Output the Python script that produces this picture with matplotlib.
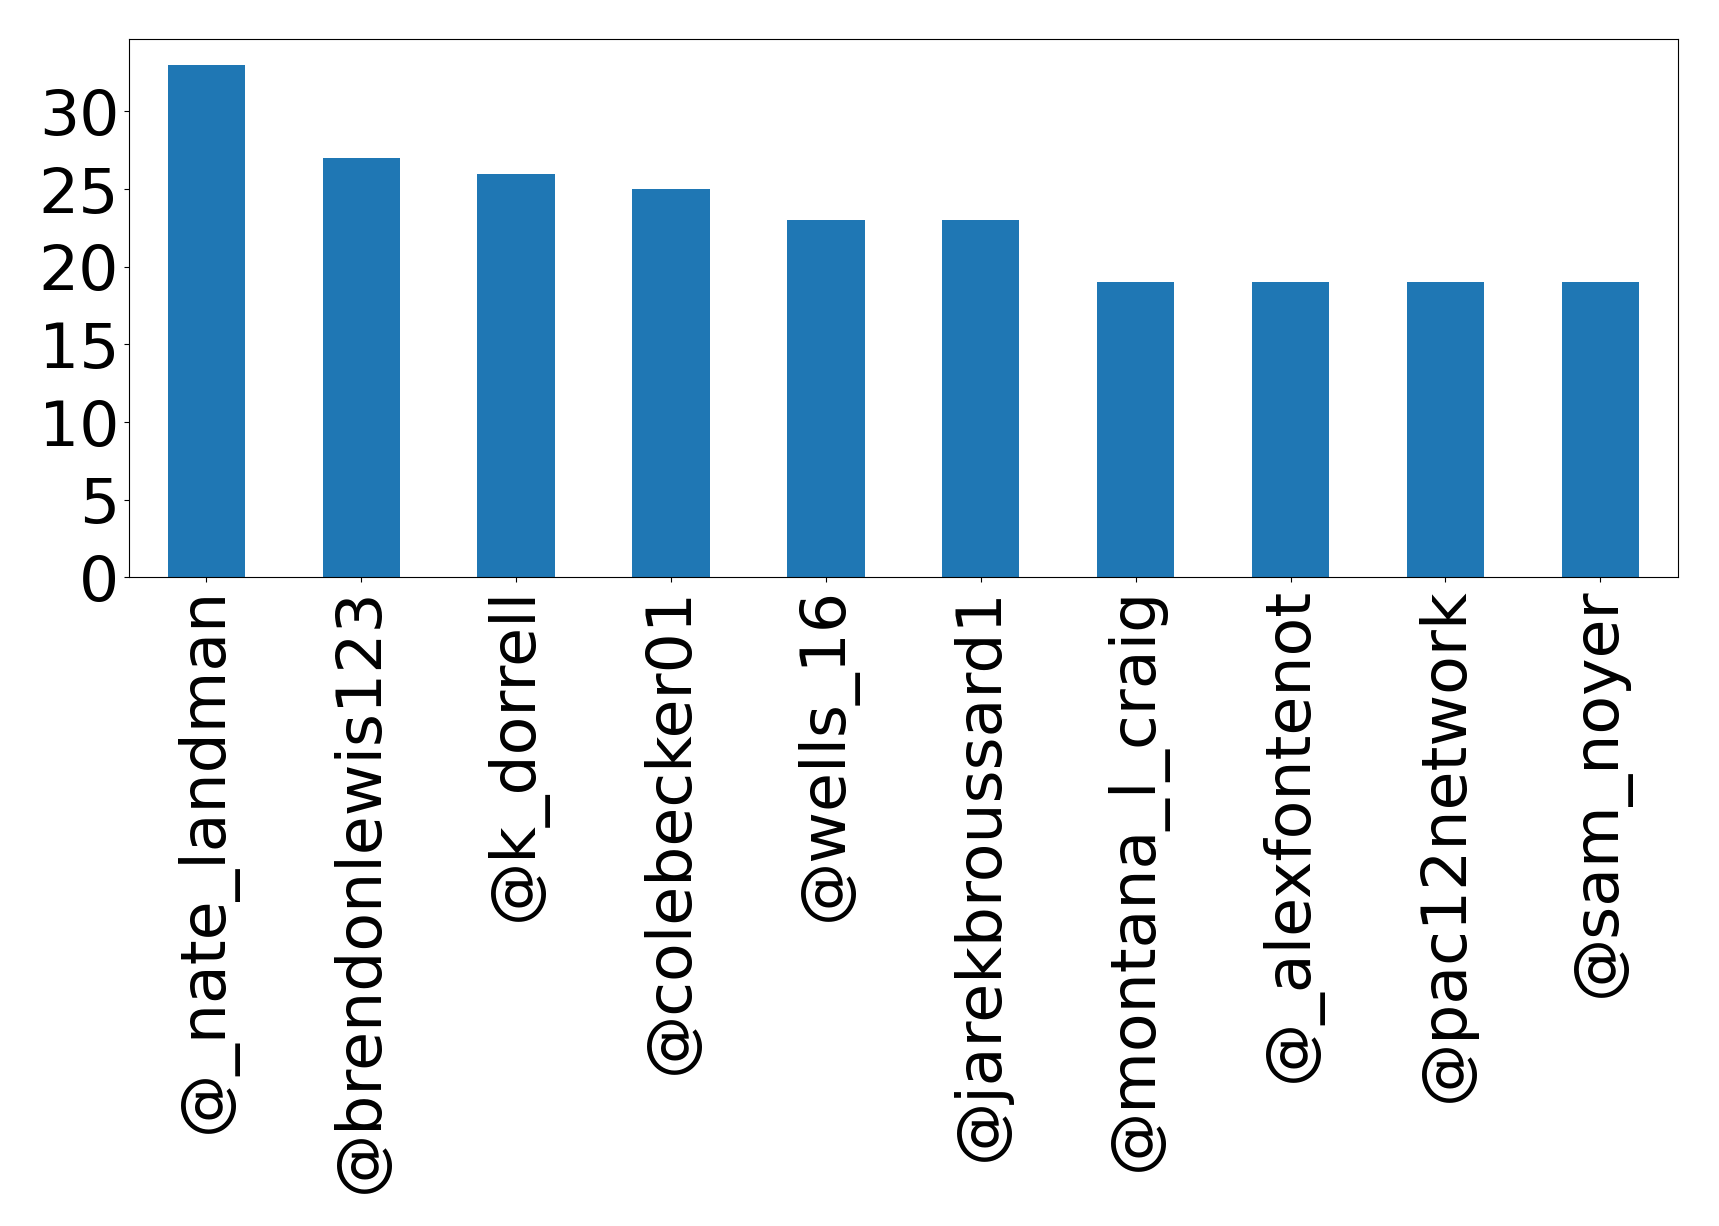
import matplotlib
matplotlib.use('Agg')
import matplotlib.pyplot as plt
import pandas as pd

# top mentioned accounts and how often each shows up
users = ['@_nate_landman', '@brendonlewis123', '@k_dorrell', '@colebecker01',
         '@wells_16', '@jarekbroussard1', '@montana_l_craig', '@_alexfontenot',
         '@pac12network', '@sam_noyer']
counts = [33, 27, 26, 25, 23, 23, 19, 19, 19, 19]

mentions = pd.Series(counts, index=users)

fig = plt.figure(figsize=(17.19, 12.26), dpi=100)
ax = fig.add_axes([0.075, 0.529, 0.901, 0.439])
mentions.plot(kind='bar', ax=ax, fontsize=45.5)

fig.savefig('out.png', dpi=100)
